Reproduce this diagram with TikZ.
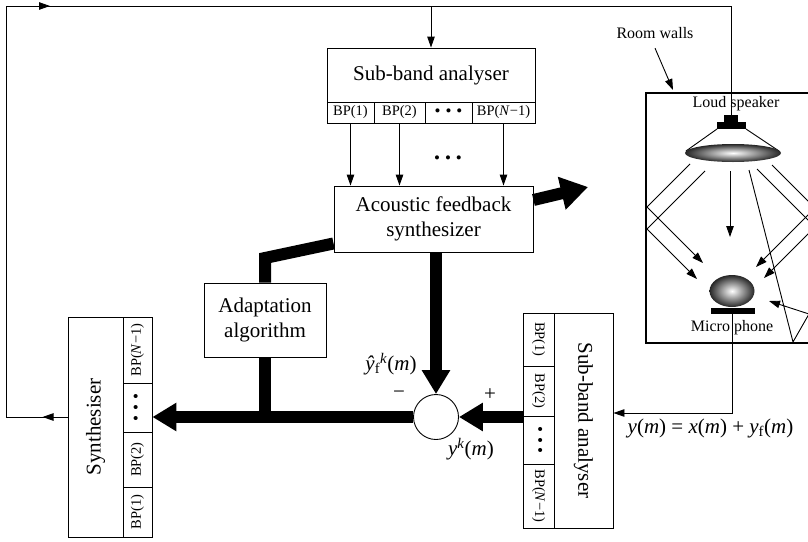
\documentclass[tikz,border=0pt]{standalone}
\usepackage{fontspec}
\usepackage{graphicx}
\setmainfont{Liberation Serif}
\usetikzlibrary{arrows.meta,decorations.markings}

% three spaced bullets used in the band cells
\newcommand{\banddots}{{\fontsize{17}{18}\selectfont\textbullet\hspace{5pt}\textbullet\hspace{5pt}\textbullet}}

\begin{document}
\begin{tikzpicture}[x=1pt,y=-1pt,
  wire/.style={line width=0.9pt},
  arr/.style={-{Triangle[length=11pt,width=7.5pt]}},
  bus/.style={line width=12pt},
  busarr/.style={bus,-{Triangle[length=24pt,width=27pt]}},
  box/.style={draw,line width=0.9pt,inner sep=0pt,align=center},
  big/.style={font=\fontsize{21}{25}\selectfont},
  bp/.style={font=\fontsize{14.5}{16}\selectfont},
  lbl/.style={font=\fontsize{16}{18}\selectfont},
  midarrow/.style={postaction=decorate,decoration={markings,
    mark=at position #1 with {\arrow{Triangle[length=11pt,width=7.5pt]}}}},
]
\useasboundingbox (0,0) rectangle (808,541);
\clip (0,0) rectangle (808,541);

% ---------- upper sub-band analyser ----------
\node[box,big,minimum width=208pt,minimum height=54pt] (sba) at (431,75) {Sub-band analyser};
\node[box,bp,minimum width=47pt,minimum height=21pt] (t1) at (350.5,112.5) {BP(1)};
\node[box,bp,minimum width=51pt,minimum height=21pt] (t2) at (399.5,112.5) {BP(2)};
\node[box,bp,minimum width=47pt,minimum height=21pt] (t3) at (448.5,112.5) {\banddots};
\node[box,bp,minimum width=63pt,minimum height=21pt] (t4) at (503.5,112.5) {BP(\textit{N}−1)};

% ---------- acoustic feedback synthesizer ----------
\node[box,big,minimum width=199pt,minimum height=66pt] (afs) at (433.5,219) {Acoustic feedback\\synthesizer};
\draw[wire,arr] (t1.south) -- (t1.south |- afs.north);
\draw[wire,arr] (t2.south) -- (t2.south |- afs.north);
\draw[wire,arr] (t4.south) -- (t4.south |- afs.north);
\node[bp] (dd) at (448,160) {\banddots};

% ---------- adaptation ----------
\node[box,big,minimum width=122pt,minimum height=74pt] (ad) at (265,320) {Adaptation\\algorithm};

% ---------- summing junction ----------
\node[draw,circle,line width=0.9pt,minimum size=45pt,inner sep=0pt] (sum) at (436,417) {};

% ---------- synthesiser (left) ----------
\node[box,minimum width=55pt,minimum height=220pt] (syn) at (95.5,427) {};
\node[big] (synt) at (syn.center) {\rotatebox{90}{Synthesiser}};
\node[box,bp,minimum width=29pt,minimum height=66pt] (s4) at (137.5,350) {\rotatebox{90}{BP(\textit{N}−1)}};
\node[box,bp,minimum width=29pt,minimum height=49pt] (s3) at (137.5,407.5) {\rotatebox{90}{\banddots}};
\node[box,bp,minimum width=29pt,minimum height=55pt] (s2) at (137.5,459.5) {\rotatebox{90}{BP(2)}};
\node[box,bp,minimum width=29pt,minimum height=50pt] (s1) at (137.5,512) {\rotatebox{90}{BP(1)}};

% ---------- lower sub-band analyser (right) ----------
\node[box,minimum width=59pt,minimum height=215pt] (ra) at (583.5,420.5) {};
\node[big] (rat) at (ra.center) {\rotatebox{-90}{Sub-band analyser}};
\node[box,bp,minimum width=31pt,minimum height=53pt] (r1) at (538.5,339.5) {\rotatebox{-90}{BP(1)}};
\node[box,bp,minimum width=31pt,minimum height=50pt] (r2) at (538.5,391) {\rotatebox{-90}{BP(2)}};
\node[box,bp,minimum width=31pt,minimum height=48pt] (r3) at (538.5,440) {\rotatebox{-90}{\banddots}};
\node[box,bp,minimum width=31pt,minimum height=64pt] (r4) at (538.5,496) {\rotatebox{-90}{BP(\textit{N}−1)}};

% ---------- thick signal buses ----------
\draw[busarr] (r3.west |- sum) -- (sum.east);
\draw[busarr] (sum.west) -- (sum.west -| s3.east);
\draw[bus] (ad.south) -- (ad.south |- sum);
\draw[busarr] (sum |- afs.south) -- (sum.north);
\coordinate (bend) at (265,258);
\draw[bus] ([yshift=9pt]afs.south west) -- (bend) -- (ad.north);
\coordinate (out) at (588,187);
\draw[bus,-{Triangle[length=27pt,width=32pt]}] ([yshift=19pt]afs.east) -- (out);

% ---------- signal labels ----------
\node[big] (yhat) at (391,364) {\textit{ŷ}\textsubscript{f}\textsuperscript{\textit{k}}(\textit{m})};
\node[big] (minus) at (399,395) {−};
\node[big] (plus) at (490,395) {+};
\node[big] (yk) at (471,449) {\textit{y}\textsuperscript{\textit{k}}(\textit{m})};
\node[big] (ylab) at (710.5,428) {\textit{y}(\textit{m}) = \textit{x}(\textit{m}) + \textit{y}\textsubscript{f}(\textit{m})};

% ---------- room ----------
\draw[line width=2.2pt] (646,93) rectangle (815,343);
\node[lbl] (rw) at (655,33) {Room walls};
\coordinate (wallpt) at (673,90);
\draw[wire,arr] ([yshift=-6pt]rw.south) -- (wallpt);

% loudspeaker
\fill (724,115) rectangle (738,122);
\fill (717,122) rectangle (746,129);
\draw[wire] (717,129) -- (686,151);
\draw[wire] (746,129) -- (779,151);
\shade[inner color=white,outer color=black!85] (733,153) ellipse [x radius=48pt,y radius=9pt];
\node[lbl] (lsp) at (736,104) {Loud speaker};

% microphone
\shade[inner color=white,outer color=black!85] (732,291) ellipse [x radius=22.5pt,y radius=16pt];
\fill (711,308) rectangle (755,314);
\node[lbl] (mph) at (732,328) {Micro phone};

% sound paths
\draw[wire,arr] (690,164) -- (647,207) -- (703,263);
\draw[wire,arr] (705,171) -- (647,229) -- (697,279);
\draw[wire,arr] (730,171) -- (730,237);
\draw[wire,arr] (757,169) -- (815,227) -- (764,278);
\draw[wire,arr] (772,165) -- (815,208) -- (756,267);
\draw[wire,arr] (749,170) -- (793,342) -- (809,314) -- (769,301);

% ---------- feedback wiring ----------
\coordinate (fbL) at (6,417);
\coordinate (fbT) at (6,6);
\coordinate (fbR) at (731,6);
\coordinate (spkin) at (731,115);
\draw[wire,midarrow=25pt] (syn.west |- fbL) -- (fbL);
\draw[wire,midarrow=455pt] (fbL) -- (fbT) -- (fbR) -- (spkin);
\draw[wire,arr] (sba.north |- fbT) -- (sba.north);

\coordinate (micout) at (732,314);
\coordinate (yin) at (732,413);
\draw[wire,arr] (micout) -- (yin) -- (yin -| ra.east);
\end{tikzpicture}
\end{document}
